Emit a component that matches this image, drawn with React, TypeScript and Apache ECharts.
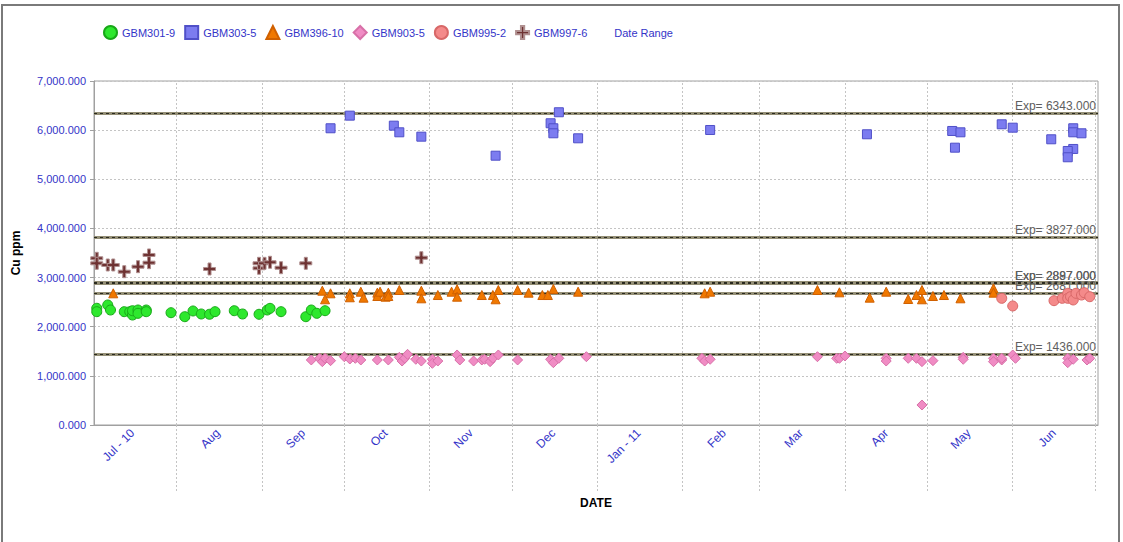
import React, { useEffect, useRef } from "react";
import * as echarts from "echarts";

// ---- Data ----
const MONTH_STARTS = [
  "2010-08-01", "2010-09-01", "2010-10-01", "2010-11-01", "2010-12-01", "2011-01-01",
  "2011-02-01", "2011-03-01", "2011-04-01", "2011-05-01", "2011-06-01", "2011-07-01",
];
const MONTH_LABELS = ["Jul - 10", "Aug", "Sep", "Oct", "Nov", "Dec", "Jan - 11", "Feb", "Mar", "Apr", "May", "Jun"];
const LABEL_DATES = [
  "2010-07-16", "2010-08-16", "2010-09-16", "2010-10-16", "2010-11-16", "2010-12-16",
  "2011-01-16", "2011-02-16", "2011-03-16", "2011-04-16", "2011-05-16", "2011-06-16",
];
const X_MIN = "2010-07-02";
const X_MAX = "2011-07-02";

const EXP_VALUES = [6343, 3827, 2897, 2887, 2681, 1436];

const GBM301_9: [string, number][] = [
  ["2010-07-03", 2375], ["2010-07-03", 2306], ["2010-07-07", 2442], ["2010-07-08", 2340],
  ["2010-07-13", 2306], ["2010-07-15", 2306], ["2010-07-16", 2238], ["2010-07-16", 2326],
  ["2010-07-18", 2340], ["2010-07-18", 2273], ["2010-07-21", 2340], ["2010-07-21", 2306],
  ["2010-07-30", 2285], ["2010-08-04", 2204], ["2010-08-07", 2320], ["2010-08-10", 2259],
  ["2010-08-13", 2253], ["2010-08-15", 2306], ["2010-08-22", 2326], ["2010-08-25", 2259],
  ["2010-08-31", 2253], ["2010-09-03", 2340], ["2010-09-04", 2374], ["2010-09-08", 2306],
  ["2010-09-17", 2204], ["2010-09-19", 2340], ["2010-09-21", 2273], ["2010-09-24", 2326],
];

const GBM303_5: [string, number][] = [
  ["2010-09-26", 6038], ["2010-10-03", 6295], ["2010-10-19", 6091], ["2010-10-21", 5956],
  ["2010-10-29", 5867], ["2010-11-25", 5480], ["2010-12-15", 6140], ["2010-12-16", 6038],
  ["2010-12-16", 5936], ["2010-12-18", 6364], ["2010-12-25", 5834], ["2011-02-11", 6003],
  ["2011-04-09", 5916], ["2011-05-10", 5983], ["2011-05-13", 5956], ["2011-05-11", 5643],
  ["2011-05-28", 6119], ["2011-06-01", 6050], ["2011-06-15", 5814], ["2011-06-23", 6038],
  ["2011-06-23", 5956], ["2011-06-26", 5936], ["2011-06-23", 5617], ["2011-06-21", 5576],
  ["2011-06-21", 5448],
];

const GBM396_10: [string, number][] = [
  ["2010-07-09", 2680], ["2010-09-23", 2733], ["2010-09-24", 2558], ["2010-09-26", 2680],
  ["2010-10-03", 2680], ["2010-10-03", 2599], ["2010-10-07", 2713], ["2010-10-08", 2591],
  ["2010-10-13", 2693], ["2010-10-13", 2625], ["2010-10-14", 2713], ["2010-10-16", 2611],
  ["2010-10-17", 2693], ["2010-10-17", 2625], ["2010-10-21", 2747], ["2010-10-29", 2733],
  ["2010-10-29", 2578], ["2010-11-04", 2645], ["2010-11-09", 2713], ["2010-11-11", 2761],
  ["2010-11-11", 2611], ["2010-11-20", 2645], ["2010-11-24", 2645], ["2010-11-25", 2558],
  ["2010-11-26", 2747], ["2010-12-03", 2747], ["2010-12-07", 2693], ["2010-12-12", 2645],
  ["2010-12-14", 2645], ["2010-12-16", 2768], ["2010-12-25", 2713], ["2011-02-09", 2680],
  ["2011-02-11", 2713], ["2011-03-22", 2747], ["2011-03-30", 2700], ["2011-04-10", 2591],
  ["2011-04-16", 2713], ["2011-04-24", 2564], ["2011-04-27", 2645], ["2011-04-29", 2747],
  ["2011-04-29", 2558], ["2011-05-03", 2625], ["2011-05-07", 2645], ["2011-05-13", 2578],
  ["2011-05-25", 2781], ["2011-05-25", 2693],
];

const GBM903_5: [string, number][] = [
  ["2010-09-19", 1323], ["2010-09-22", 1357], ["2010-09-23", 1289], ["2010-09-24", 1357],
  ["2010-09-26", 1309], ["2010-10-01", 1390], ["2010-10-03", 1343], ["2010-10-05", 1357],
  ["2010-10-07", 1323], ["2010-10-13", 1323], ["2010-10-17", 1323], ["2010-10-21", 1377],
  ["2010-10-22", 1302], ["2010-10-23", 1357], ["2010-10-24", 1438], ["2010-10-27", 1337],
  ["2010-10-29", 1302], ["2010-11-02", 1337], ["2010-11-02", 1255], ["2010-11-04", 1302],
  ["2010-11-11", 1425], ["2010-11-12", 1323], ["2010-11-17", 1302], ["2010-11-20", 1323],
  ["2010-11-21", 1337], ["2010-11-23", 1289], ["2010-11-24", 1357], ["2010-11-26", 1425],
  ["2010-12-03", 1323], ["2010-12-15", 1337], ["2010-12-16", 1268], ["2010-12-18", 1357],
  ["2010-12-28", 1390], ["2011-02-08", 1357], ["2011-02-09", 1302], ["2011-02-11", 1337],
  ["2011-03-22", 1390], ["2011-03-29", 1357], ["2011-03-30", 1357], ["2011-04-01", 1404],
  ["2011-04-16", 1357], ["2011-04-16", 1302], ["2011-04-24", 1357], ["2011-04-27", 1357],
  ["2011-04-29", 1289], ["2011-04-29", 407], ["2011-05-03", 1309], ["2011-05-14", 1377],
  ["2011-05-14", 1337], ["2011-05-25", 1357], ["2011-05-25", 1289], ["2011-05-28", 1323],
  ["2011-05-28", 1357], ["2011-06-01", 1425], ["2011-06-02", 1357], ["2011-06-21", 1357],
  ["2011-06-21", 1268], ["2011-06-23", 1337], ["2011-06-28", 1323], ["2011-06-29", 1357],
];

const GBM995_2: [string, number][] = [
  ["2011-05-28", 2578], ["2011-06-01", 2422], ["2011-06-16", 2530], ["2011-06-19", 2578],
  ["2011-06-21", 2680], ["2011-06-21", 2578], ["2011-06-22", 2611], ["2011-06-23", 2544],
  ["2011-06-24", 2680], ["2011-06-26", 2645], ["2011-06-27", 2693], ["2011-06-29", 2611],
];

const GBM997_6: [string, number][] = [
  ["2010-07-03", 3392], ["2010-07-03", 3290], ["2010-07-07", 3256], ["2010-07-09", 3256],
  ["2010-07-13", 3120], ["2010-07-18", 3222], ["2010-07-22", 3460], ["2010-07-22", 3303],
  ["2010-08-13", 3175], ["2010-08-31", 3189], ["2010-08-31", 3290], ["2010-09-02", 3290],
  ["2010-09-04", 3311], ["2010-09-08", 3201], ["2010-09-17", 3290], ["2010-10-29", 3405],
];

const ts = (s: string) => {
  const [y, m, d] = s.split("-").map(Number);
  return new Date(y, m - 1, d).getTime();
};
const toData = (arr: [string, number][]) => arr.map(([d, v]) => [ts(d), v]);

const CROSS = "path://M3,0H5V3H8V5H5V8H3V5H0V3H3Z";
const FONT = "Liberation Sans";
const BLUE_TEXT = "#3434c8";
const GRID_GRAY = "#c4c4c4";

export default function App() {
  const ref = useRef<HTMLDivElement>(null);

  useEffect(() => {
    document.body.style.margin = "0";
    if (!ref.current) return;
    const chart = echarts.init(ref.current, undefined, { renderer: "svg" });

    const monthStartTs = MONTH_STARTS.map(ts);
    const labelTs = LABEL_DATES.map(ts);

    const scatter = (name: string, data: [string, number][], symbol: string, size: number, color: string, border: string) => ({
      name,
      type: "scatter",
      data: toData(data),
      symbol,
      symbolSize: size,
      itemStyle: { color, borderColor: border, borderWidth: 1, opacity: 1 },
      emphasis: { disabled: true },
      z: 5,
    });

    const expLabel = (v: number) => "Exp= " + v.toFixed(3);

    const option: any = {
      animation: false,
      backgroundColor: "#ffffff",
      textStyle: { fontFamily: FONT },
      graphic: [
        {
          type: "rect",
          shape: { x: 2, y: 5, width: 1117, height: 620 },
          style: { fill: "none", stroke: "#7a7a7a", lineWidth: 2 },
          silent: true,
        },
      ],
      legend: {
        left: 98,
        top: 20,
        itemWidth: 13,
        itemHeight: 13,
        itemGap: 9,
        textStyle: { color: BLUE_TEXT, fontSize: 11, fontFamily: FONT },
        data: [
          { name: "GBM301-9" },
          { name: "GBM303-5" },
          { name: "GBM396-10" },
          { name: "GBM903-5" },
          { name: "GBM995-2" },
          { name: "GBM997-6" },
          { name: "Date Range", icon: "none" },
        ],
        selectedMode: false,
      },
      grid: {
        left: 94,
        right: 25,
        top: 81,
        bottom: 117,
        show: true,
        borderColor: "#a0a0a0",
        borderWidth: 1,
      },
      xAxis: {
        type: "value",
        min: ts(X_MIN),
        max: ts(X_MAX),
        name: "DATE",
        nameLocation: "middle",
        nameGap: 72,
        nameTextStyle: { color: "#000", fontWeight: "bold", fontSize: 12, fontFamily: FONT },
        axisLine: { show: true, lineStyle: { color: "#a0a0a0" } },
        axisTick: {
          show: true,
          customValues: monthStartTs,
          length: 67,
          lineStyle: { color: GRID_GRAY, type: [2, 2] },
        },
        splitLine: { show: false },
        axisLabel: {
          customValues: labelTs,
          rotate: 45,
          margin: 6,
          color: BLUE_TEXT,
          fontSize: 12,
          fontFamily: FONT,
          formatter: (val: number) => {
            const d = new Date(val);
            const i = (d.getFullYear() - 2010) * 12 + d.getMonth() - 6;
            return MONTH_LABELS[i] ?? "";
          },
        },
      },
      yAxis: {
        type: "value",
        min: 0,
        max: 7000,
        interval: 1000,
        name: "Cu ppm",
        nameLocation: "middle",
        nameGap: 72,
        nameTextStyle: { color: "#000", fontWeight: "bold", fontSize: 12, fontFamily: FONT },
        axisLine: { show: true, lineStyle: { color: "#a0a0a0" } },
        axisTick: { show: true, length: 4, lineStyle: { color: "#a0a0a0" } },
        splitLine: { show: true, lineStyle: { color: GRID_GRAY, type: [2, 2] } },
        axisLabel: {
          color: BLUE_TEXT,
          fontSize: 11,
          fontFamily: FONT,
          margin: 8,
          formatter: (v: number) =>
            v.toLocaleString("en-US", { minimumFractionDigits: 3, maximumFractionDigits: 3 }),
        },
      },
      series: [
        {
          name: "MonthGrid",
          type: "line",
          data: [],
          silent: true,
          markLine: {
            silent: true,
            symbol: "none",
            label: { show: false },
            lineStyle: { color: GRID_GRAY, width: 1, type: [2, 2] },
            data: monthStartTs.map((v) => ({ xAxis: v })),
          },
        },
        {
          name: "ExpBase",
          type: "line",
          data: [],
          silent: true,
          markLine: {
            silent: true,
            symbol: "none",
            label: { show: false },
            lineStyle: { color: "#948f76", width: 3, type: "solid" },
            data: EXP_VALUES.map((v) => ({ yAxis: v })),
          },
        },
        {
          name: "ExpDash",
          type: "line",
          data: [],
          silent: true,
          markLine: {
            silent: true,
            symbol: "none",
            label: {
              show: true,
              position: "insideEndTop",
              distance: [2, 1],
              color: "#5e5e5e",
              fontSize: 12,
              fontFamily: FONT,
              formatter: (p: any) => expLabel(p.value),
            },
            lineStyle: { color: "#2a2a20", width: 1, type: [3, 3] },
            data: EXP_VALUES.map((v) => ({ yAxis: v })),
          },
        },
        scatter("GBM301-9", GBM301_9, "circle", 10, "#2ee82e", "#18a818"),
        scatter("GBM303-5", GBM303_5, "rect", 9, "#7c7cf0", "#5050c8"),
        scatter("GBM396-10", GBM396_10, "triangle", 9, "#f07800", "#d06000"),
        scatter("GBM903-5", GBM903_5, "diamond", 10, "#f08cc4", "#d870a8"),
        scatter("GBM995-2", GBM995_2, "circle", 10, "#f48a8a", "#d86868"),
        scatter("GBM997-6", GBM997_6, CROSS, 12, "#6e3232", "#b09090"),
        { name: "Date Range", type: "scatter", data: [], symbol: "none" },
      ],
    };

    chart.setOption(option);
    return () => chart.dispose();
  }, []);

  return (
    <div
      ref={ref}
      style={{ position: "fixed", left: 0, top: 0, width: 1123, height: 542 }}
    />
  );
}
